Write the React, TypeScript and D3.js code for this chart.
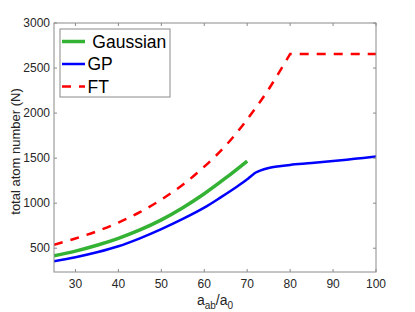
import * as d3 from "d3";

// values
const gaussX = [25, 30, 35, 40, 45, 50, 55, 60, 65, 70];
const gaussN = [415, 468, 533, 610, 703, 815, 950, 1105, 1280, 1468];

const gpX = [25, 30, 35, 40, 45, 50, 55, 60, 64, 67.5, 70, 71, 72, 73, 75, 77, 80, 85, 90, 95, 100];
const gpN = [355, 400, 455, 522, 610, 712, 825, 950, 1070, 1180, 1265, 1305, 1340, 1362, 1390, 1407, 1425, 1445, 1467, 1492, 1517];

// rising part up to the plateau, then flat
const ftX = [25, 30, 35, 40, 45, 50, 55, 60, 65, 70, 75, 80];
const ftN = [538, 608, 688, 785, 900, 1040, 1205, 1405, 1640, 1930, 2265, 2657];
const ftFlatX = [80, 100];
const ftFlatN = [2657, 2657];

const xTicks = [30, 40, 50, 60, 70, 80, 90, 100];
const yTicks = [500, 1000, 1500, 2000, 2500, 3000];

const W = 415;
const H = 312;
const m = { left: 54, right: 39, top: 23, bottom: 40 };
const font = "'Liberation Sans', Arial, Helvetica, sans-serif";
const axisColor = "#8a8a8a";
const textColor = "#262626";

export default function App() {
  const x = d3.scaleLinear().domain([25, 100]).range([m.left, W - m.right]);
  const y = d3.scaleLinear().domain([236, 3000]).range([H - m.bottom, m.top]);

  const toPts = (xs: number[], ys: number[]) => xs.map((v, i) => [v, ys[i]] as [number, number]);
  const smooth = d3
    .line<[number, number]>()
    .x((d) => x(d[0]))
    .y((d) => y(d[1]))
    .curve(d3.curveCatmullRom.alpha(0.5));

  const ftPath =
    (smooth(toPts(ftX, ftN)) || "") +
    toPts(ftFlatX, ftFlatN)
      .slice(1)
      .map((d) => `L${x(d[0])},${y(d[1])}`)
      .join("");

  const x0 = m.left;
  const x1 = W - m.right;
  const y0 = H - m.bottom;
  const y1 = m.top;
  const tl = 3;

  const legend = [
    { label: " Gaussian", color: "#33b233", width: 3.5, dash: undefined, yy: 41.5 },
    { label: "GP", color: "#0000ff", width: 2.5, dash: undefined, yy: 64 },
    { label: "FT", color: "#ff0000", width: 2.5, dash: "9 8", yy: 86.5 },
  ];

  return (
    <div style={{ position: "fixed", left: 0, top: 0 }}>
      <svg width={W} height={H} style={{ display: "block", background: "#fff" }} fontFamily={font}>
        <defs>
          <clipPath id="plot">
            <rect x={x0} y={y1} width={x1 - x0} height={y0 - y1} />
          </clipPath>
        </defs>

        <g clipPath="url(#plot)" fill="none">
          <path d={ftPath} stroke="#ff0000" strokeWidth={2.5} strokeDasharray="9 8" />
          <path d={smooth(toPts(gaussX, gaussN)) || ""} stroke="#33b233" strokeWidth={3.5} />
          <path d={smooth(toPts(gpX, gpN)) || ""} stroke="#0000ff" strokeWidth={2.5} />
        </g>

        {/* box */}
        <rect x={x0} y={y1} width={x1 - x0} height={y0 - y1} fill="none" stroke={axisColor} strokeWidth={1} />

        {xTicks.map((t) => (
          <g key={"x" + t}>
            <line x1={x(t)} x2={x(t)} y1={y0} y2={y0 - tl} stroke={axisColor} />
            <line x1={x(t)} x2={x(t)} y1={y1} y2={y1 + tl} stroke={axisColor} />
            <text x={x(t)} y={288} textAnchor="middle" fontSize={12} fill={textColor}>
              {t}
            </text>
          </g>
        ))}
        {yTicks.map((t) => (
          <g key={"y" + t}>
            <line x1={x0} x2={x0 + tl} y1={y(t)} y2={y(t)} stroke={axisColor} />
            <line x1={x1} x2={x1 - tl} y1={y(t)} y2={y(t)} stroke={axisColor} />
            <text x={50} y={y(t)} dy="0.35em" textAnchor="end" fontSize={12} fill={textColor}>
              {t}
            </text>
          </g>
        ))}

        <text x={(x0 + x1) / 2} y={305} textAnchor="middle" fontSize={14} fill={textColor}>
          a<tspan fontSize={10} dy={4}>ab</tspan>
          <tspan dy={-4}>/a</tspan>
          <tspan fontSize={10} dy={4}>0</tspan>
        </text>

        <text
          transform="translate(19.5,151.5) rotate(-90)"
          textAnchor="middle"
          fontSize={13}
          fill={textColor}
        >
          total atom number (N)
        </text>

        <g>
          <rect x={60} y={29} width={110} height={68} fill="#fff" stroke={axisColor} strokeWidth={1} />
          {legend.map((d) => (
            <g key={d.label}>
              <line x1={62} x2={85} y1={d.yy} y2={d.yy} stroke={d.color} strokeWidth={d.width} strokeDasharray={d.dash} />
              <text x={87.5} y={d.yy} dy="0.36em" fontSize={17.5} fill="#000" style={{ whiteSpace: "pre" }}>
                {d.label}
              </text>
            </g>
          ))}
        </g>
      </svg>
    </div>
  );
}
